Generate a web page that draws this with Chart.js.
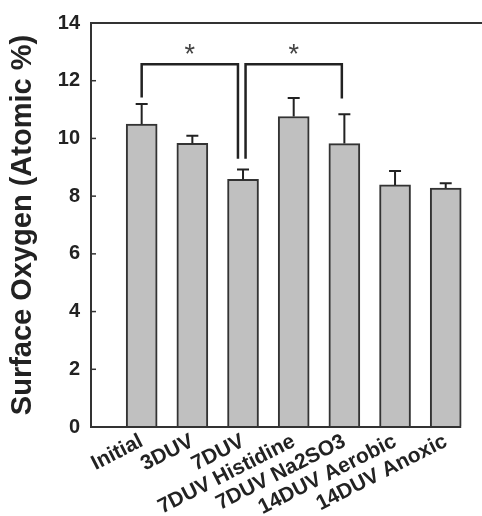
<!DOCTYPE html>
<html>
<head>
<meta charset="utf-8">
<script src="https://cdn.jsdelivr.net/npm/chart.js@4.4.0/dist/chart.umd.min.js"></script>
<style>
  html, body { margin: 0; padding: 0; background: #fff; }
  #wrap { width: 482px; height: 516px; position: relative; }
</style>
</head>
<body>
<div id="wrap"><canvas id="grafico"></canvas></div>
<script>
// values
var categories = ['Initial', '3DUV', '7DUV', '7DUV Histidine', '7DUV Na2SO3', '14DUV Aerobic', '14DUV Anoxic'];
var oxygen = [10.5, 9.83, 8.58, 10.76, 9.82, 8.39, 8.28];
var oxygenErr = [0.69, 0.26, 0.34, 0.64, 1.02, 0.48, 0.17];

// significance brackets (x in category index, y in atomic %)
var bracketFrom = [0, 2.05];
var bracketTo = [1.9, 3.95];
var bracketLeftEnd = [11.42, 9.3];
var bracketRightEnd = [9.3, 11.38];
var bracketTop = [12.57, 12.57];

var ink = '#222';
var fontName = '"Liberation Sans", Arial, sans-serif';

var errorBars = {
  id: 'errorBars',
  afterDatasetsDraw: function(chart) {
    var ctx = chart.ctx, y = chart.scales.y;
    var meta = chart.getDatasetMeta(0);
    ctx.save();
    ctx.strokeStyle = ink;
    ctx.lineWidth = 2;
    meta.data.forEach(function(bar, i) {
      var top = y.getPixelForValue(oxygen[i] + oxygenErr[i]);
      ctx.beginPath();
      ctx.moveTo(bar.x, bar.y);
      ctx.lineTo(bar.x, top);
      ctx.moveTo(bar.x - 6, top);
      ctx.lineTo(bar.x + 6, top);
      ctx.stroke();
    });
    ctx.restore();
  }
};

var frame = {
  id: 'frame',
  afterDraw: function(chart) {
    var ctx = chart.ctx, x = chart.scales.x, y = chart.scales.y;
    var a = chart.chartArea;
    ctx.save();
    ctx.strokeStyle = '#333';
    ctx.lineWidth = 2;
    // bottom axis line ends at last bar
    var meta = chart.getDatasetMeta(0);
    var last = meta.data[meta.data.length - 1];
    ctx.beginPath();
    ctx.moveTo(a.left, y.getPixelForValue(0));
    ctx.lineTo(last.x + last.width / 2, y.getPixelForValue(0));
    ctx.stroke();
    // inward tick marks
    ctx.lineWidth = 1.5;
    y.ticks.forEach(function(t) {
      if (t.value === 0 || t.value === 14) return;
      var py = y.getPixelForValue(t.value);
      ctx.beginPath();
      ctx.moveTo(a.left, py);
      ctx.lineTo(a.left + 5, py);
      ctx.stroke();
    });
    // significance brackets
    ctx.strokeStyle = ink;
    ctx.lineWidth = 2.5;
    for (var i = 0; i < bracketFrom.length; i++) {
      var x1 = x.getPixelForValue(bracketFrom[i]);
      var x2 = x.getPixelForValue(bracketTo[i]);
      ctx.beginPath();
      ctx.moveTo(x1, y.getPixelForValue(bracketLeftEnd[i]));
      ctx.lineTo(x1, y.getPixelForValue(bracketTop[i]));
      ctx.lineTo(x2, y.getPixelForValue(bracketTop[i]));
      ctx.lineTo(x2, y.getPixelForValue(bracketRightEnd[i]));
      ctx.stroke();
      ctx.fillStyle = '#444';
      ctx.font = '27px ' + fontName;
      ctx.textAlign = 'center';
      ctx.textBaseline = 'middle';
      ctx.fillText('*', (x1 + x2) / 2, y.getPixelForValue(bracketTop[i]) - 9);
    }
    ctx.restore();
  }
};

var canvas = document.getElementById('grafico');
var chart = new Chart(canvas.getContext('2d'), {
  type: 'bar',
  data: {
    datasets: [{
      data: oxygen.map(function(v, i) { return { x: i, y: v }; }),
      backgroundColor: '#c0c0c0',
      borderColor: '#333',
      borderWidth: 2,
      barThickness: 31
    }]
  },
  options: {
    responsive: true,
    maintainAspectRatio: false,
    animation: false,
    layout: { padding: { top: 22, right: 0, left: 0, bottom: 0 } },
    plugins: { legend: { display: false }, tooltip: { enabled: false } },
    scales: {
      x: {
        type: 'linear',
        offset: false,
        min: -1,
        max: 6.716,
        afterBuildTicks: function(s) {
          s.ticks = categories.map(function(c, i) { return { value: i }; });
        },
        afterFit: function(s) { s.height = 89; },
        grid: { display: false },
        border: { display: false },
        ticks: {
          autoSkip: false,
          minRotation: 27,
          maxRotation: 27,
          padding: -6,
          color: ink,
          font: { family: fontName, size: 21, weight: 'bold' },
          callback: function(v) { return categories[v]; }
        }
      },
      y: {
        min: 0,
        max: 14,
        ticks: {
          stepSize: 2,
          padding: 11,
          color: ink,
          font: { family: fontName, size: 20, weight: 'bold' }
        },
        afterFit: function(s) { s.width = 91; },
        grid: {
          drawTicks: false,
          lineWidth: 2,
          color: function(c) { return c.tick && c.tick.value === 14 ? '#333' : 'rgba(0,0,0,0)'; }
        },
        border: { display: true, color: '#333', width: 2 },
        title: {
          display: true,
          text: 'Surface Oxygen (Atomic %)',
          color: ink,
          padding: { top: 6, bottom: 0 },
          font: { family: fontName, size: 29, weight: 'bold' }
        }
      }
    }
  },
  plugins: [errorBars, frame]
});
</script>
</body>
</html>
